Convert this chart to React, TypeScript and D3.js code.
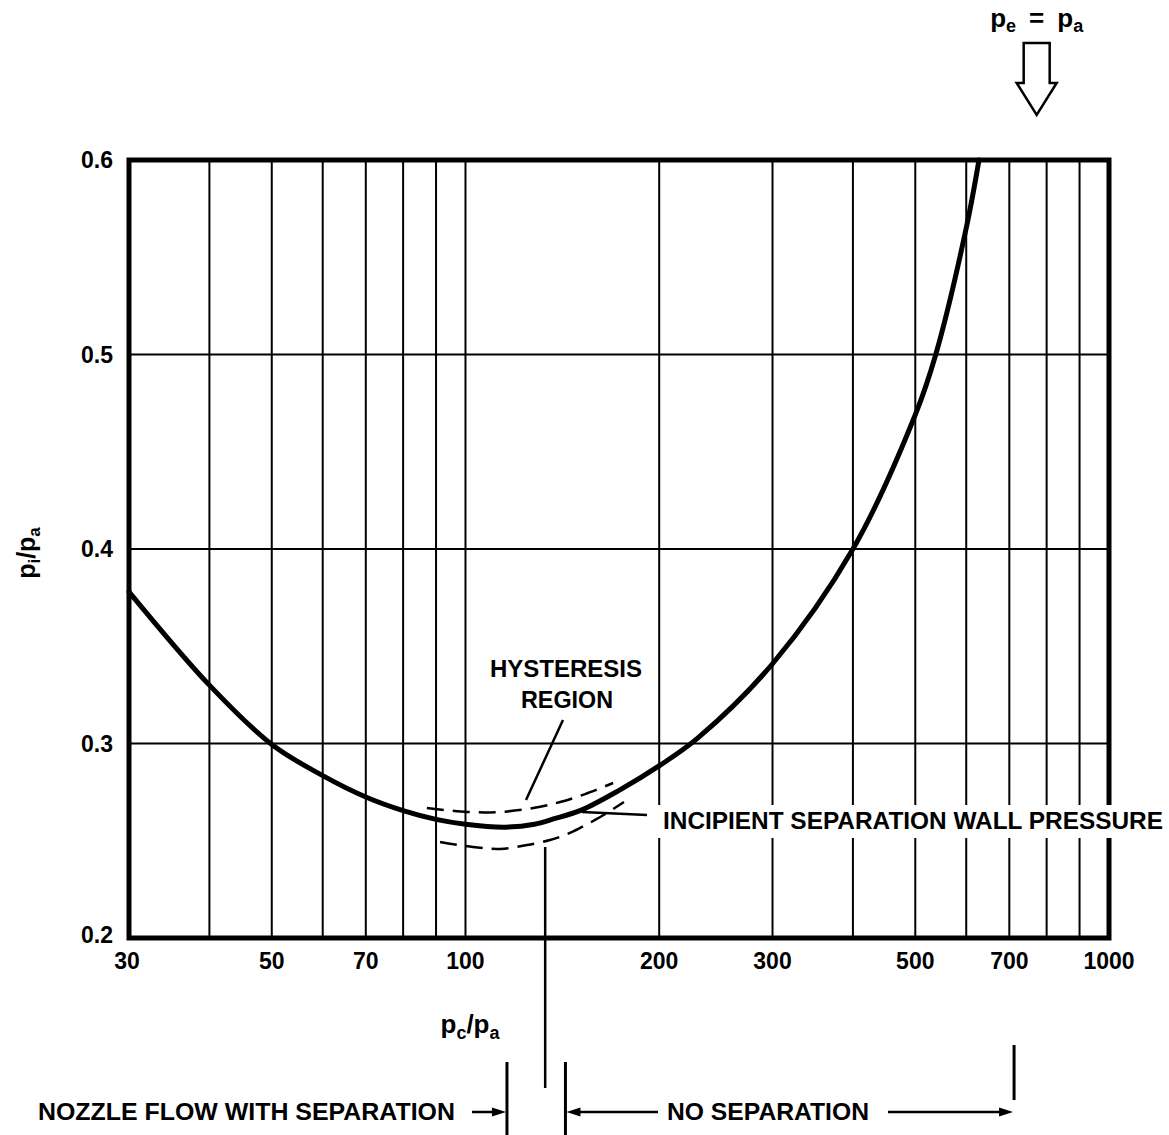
import React from "react";
import * as d3 from "d3";

// ---- data ----
const mainX = [30, 40, 50, 60, 70, 80, 90, 100, 115, 128, 137, 151, 173, 201, 230, 300, 400, 500, 538, 600, 628];
const mainY = [0.378, 0.33, 0.2995, 0.2835, 0.2725, 0.2655, 0.261, 0.2585, 0.257, 0.2585, 0.2612, 0.2656, 0.2758, 0.289, 0.303, 0.341, 0.4, 0.469, 0.5, 0.565, 0.6];
const upperX = [87.1, 100.5, 113.2, 127.4, 140.3, 153.4, 169.6];
const upperY = [0.2668, 0.2648, 0.2648, 0.2668, 0.2699, 0.274, 0.2797];
const lowerX = [91.3, 102.7, 113.2, 124.6, 135.3, 142.8, 150.7, 159, 167.8, 176.3];
const lowerY = [0.2494, 0.2468, 0.2458, 0.2478, 0.2504, 0.253, 0.2566, 0.2607, 0.2653, 0.2699];
const xGrid = [40, 50, 60, 70, 80, 90, 100, 200, 300, 400, 500, 600, 700, 800, 900];
const yGrid = [0.3, 0.4, 0.5];
const xTickLabels = [30, 50, 70, 100, 200, 300, 500, 700, 1000];
const yTickLabels = [0.2, 0.3, 0.4, 0.5, 0.6];
const hystPointerX = 133;
const sepLeftX = 116;
const sepRightX = 143;
const noSepEndX = 712;
const designX = 772;

const W = 1169, H = 1135;
const L = 129, R = 1109, T = 160, B = 938;
const FONT = "'Liberation Sans', Arial, Helvetica, sans-serif";

export default function App() {
  const x = d3.scaleLog().domain([30, 1000]).range([L, R]);
  const y = d3.scaleLinear().domain([0.2, 0.6]).range([B, T]);
  const line = d3
    .line<[number, number]>()
    .x((d) => x(d[0]))
    .y((d) => y(d[1]))
    .curve(d3.curveCatmullRom.alpha(0.5));
  const mainPts = mainX.map((v, i) => [v, mainY[i]] as [number, number]);
  const upPts = upperX.map((v, i) => [v, upperY[i]] as [number, number]);
  const loPts = lowerX.map((v, i) => [v, lowerY[i]] as [number, number]);

  const px = x(hystPointerX);
  const sl = x(sepLeftX);
  const sr = x(sepRightX);
  const ne = x(noSepEndX);
  const ax = x(designX);

  const arrowHead = (tipX: number, tipY: number, dir: number) =>
    `M${tipX},${tipY} L${tipX - dir * 14},${tipY - 4.5} L${tipX - dir * 14},${tipY + 4.5} Z`;

  return (
    <svg
      width={W}
      height={H}
      viewBox={`0 0 ${W} ${H}`}
      style={{ position: "absolute", left: 0, top: 0, background: "#fff" }}
      fontFamily={FONT}
      fontWeight="bold"
    >
      <rect x={0} y={0} width={W} height={H} fill="#fff" />
      {/* grid */}
      {xGrid.map((v) => (
        <line key={"gx" + v} x1={x(v)} x2={x(v)} y1={T} y2={B} stroke="#000" strokeWidth={2} />
      ))}
      {yGrid.map((v) => (
        <line key={"gy" + v} x1={L} x2={R} y1={y(v)} y2={y(v)} stroke="#000" strokeWidth={2} />
      ))}
      {/* frame */}
      <rect x={L} y={T} width={R - L} height={B - T} fill="none" stroke="#000" strokeWidth={5} />

      {/* curves */}
      <path d={line(upPts) || ""} fill="none" stroke="#000" strokeWidth={2.5} strokeDasharray="17 9" />
      <path d={line(loPts) || ""} fill="none" stroke="#000" strokeWidth={2.5} strokeDasharray="17 9" />
      <path d={line(mainPts) || ""} fill="none" stroke="#000" strokeWidth={5} strokeLinecap="round" />

      {/* y tick labels */}
      {yTickLabels.map((v) => (
        <text key={"yt" + v} x={113} y={y(v) - (v === 0.2 ? 3 : 0)} dy="0.36em" textAnchor="end" fontSize={23}>
          {v.toFixed(1)}
        </text>
      ))}
      {/* x tick labels */}
      {xTickLabels.map((v) => (
        <text key={"xt" + v} x={x(v) - (v === 30 ? 2 : 0)} y={969} textAnchor="middle" fontSize={23}>
          {v}
        </text>
      ))}

      {/* y axis title */}
      <text transform="translate(35,553) rotate(-90)" textAnchor="middle" fontSize={25}>
        p<tspan fontSize={17} dy={5}>i</tspan>
        <tspan dy={-5}>/p</tspan>
        <tspan fontSize={17} dy={5}>a</tspan>
      </text>

      {/* x axis title */}
      <text x={470} y={1033} textAnchor="middle" fontSize={26}>
        p<tspan fontSize={18} dy={6}>c</tspan>
        <tspan dy={-6}>/p</tspan>
        <tspan fontSize={18} dy={6}>a</tspan>
      </text>

      {/* hysteresis annotation */}
      <text x={566} y={677} textAnchor="middle" fontSize={23} textLength={152} lengthAdjust="spacingAndGlyphs">
        HYSTERESIS
      </text>
      <text x={567} y={708} textAnchor="middle" fontSize={23} textLength={92} lengthAdjust="spacingAndGlyphs">
        REGION
      </text>
      <line x1={563} y1={720} x2={526} y2={800} stroke="#000" strokeWidth={2.5} />

      {/* incipient separation annotation */}
      <rect x={656} y={805} width={513} height={33} fill="#fff" />
      <line x1={582} y1={812} x2={647} y2={815} stroke="#000" strokeWidth={2.5} />
      <text x={663} y={829} fontSize={23} textLength={500} lengthAdjust="spacingAndGlyphs">
        INCIPIENT SEPARATION WALL PRESSURE
      </text>

      {/* pointer line below */}
      <line x1={px} x2={px} y1={847} y2={1088} stroke="#000" strokeWidth={2.5} />

      {/* separation brackets */}
      <line x1={sl} x2={sl} y1={1062} y2={H} stroke="#000" strokeWidth={3} />
      <line x1={sr} x2={sr} y1={1062} y2={H} stroke="#000" strokeWidth={3} />
      <line x1={ne} x2={ne} y1={1045} y2={1100} stroke="#000" strokeWidth={3} />

      <text x={38} y={1120} fontSize={23} textLength={417} lengthAdjust="spacingAndGlyphs">
        NOZZLE FLOW WITH SEPARATION
      </text>
      <line x1={472} x2={sl - 10} y1={1112} y2={1112} stroke="#000" strokeWidth={2.5} />
      <path d={arrowHead(sl - 1, 1112, 1)} fill="#000" />

      <line x1={sr + 10} x2={658} y1={1112} y2={1112} stroke="#000" strokeWidth={2.5} />
      <path d={arrowHead(sr + 1, 1112, -1)} fill="#000" />
      <text x={667} y={1120} fontSize={23} textLength={202} lengthAdjust="spacingAndGlyphs">
        NO SEPARATION
      </text>
      <line x1={888} x2={ne - 10} y1={1112} y2={1112} stroke="#000" strokeWidth={2.5} />
      <path d={arrowHead(ne - 1, 1112, 1)} fill="#000" />

      {/* pe = pa with hollow arrow */}
      <text x={ax} y={27} textAnchor="middle" fontSize={26}>
        p<tspan fontSize={18} dy={5}>e</tspan>
        <tspan dy={-5}>{"\u2002=\u2002"}p</tspan>
        <tspan fontSize={18} dy={5}>a</tspan>
      </text>
      <path
        d={`M${ax - 13},43 L${ax + 13},43 L${ax + 13},83 L${ax + 20},83 L${ax},115 L${ax - 20},83 L${ax - 13},83 Z`}
        fill="#fff"
        stroke="#000"
        strokeWidth={2.5}
        strokeLinejoin="miter"
      />
    </svg>
  );
}
